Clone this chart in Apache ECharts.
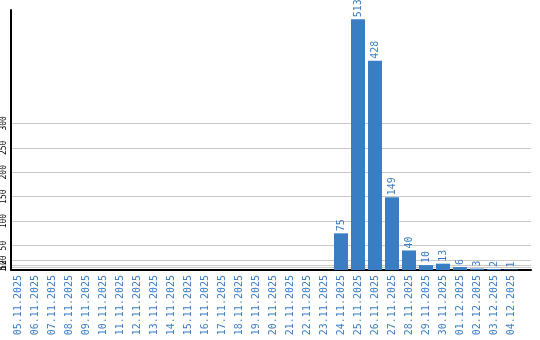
<!DOCTYPE html>
<html>
<head>
<meta charset="utf-8">
<script src="https://cdn.jsdelivr.net/npm/echarts@6/dist/echarts.min.js"></script>
<style>html,body{margin:0;padding:0;background:#fff;}#c{width:540px;height:340px;}</style>
</head>
<body>
<div id="c"></div>
<script>
const categories = ['05.11.2025','06.11.2025','07.11.2025','08.11.2025','09.11.2025','10.11.2025','11.11.2025','12.11.2025','13.11.2025','14.11.2025','15.11.2025','16.11.2025','17.11.2025','18.11.2025','19.11.2025','20.11.2025','21.11.2025','22.11.2025','23.11.2025','24.11.2025','25.11.2025','26.11.2025','27.11.2025','28.11.2025','29.11.2025','30.11.2025','01.12.2025','02.12.2025','03.12.2025','04.12.2025'];
const values = [0,0,0,0,0,0,0,0,0,0,0,0,0,0,0,0,0,0,0,75,513,428,149,40,10,13,6,3,2,1];
const yTicks = [0,1,5,10,20,50,100,150,200,250,300];
const yMax = 532;

const chart = echarts.init(document.getElementById('c'), null, {renderer:'canvas'});
const blue = '#3b7dc3';
chart.setOption({
  animation:false,
  grid:[
    {left:9.5, top:10, width:510, bottom:70},
    {left:11, top:10, right:9, bottom:70}
  ],
  xAxis:[
    {gridIndex:0, type:'category', data:categories,
     axisLine:{show:false}, axisTick:{show:false},
     axisLabel:{rotate:90, interval:0, color:blue, fontFamily:'DejaVu Sans Mono', fontSize:10, margin:5}},
    {gridIndex:1, type:'value', min:0, max:1,
     axisLine:{show:true, lineStyle:{color:'#000', width:2}},
     axisTick:{show:false}, axisLabel:{show:false}, splitLine:{show:false}}
  ],
  yAxis:[
    {gridIndex:0, type:'value', min:0, max:yMax, show:false, splitLine:{show:false}},
    {gridIndex:1, type:'value', min:0, max:yMax,
     axisLine:{show:true, lineStyle:{color:'#000', width:2}},
     axisTick:{show:false, customValues:yTicks},
     axisLabel:{customValues:yTicks, rotate:90, color:'#000', fontFamily:'DejaVu Sans Mono', fontSize:8, margin:3},
     splitLine:{show:true, lineStyle:{color:'#c8c8c8', width:1}}}
  ],
  series:[{
    type:'bar', xAxisIndex:0, yAxisIndex:0, data:values, barWidth:14,
    itemStyle:{color:blue},
    label:{show:true, position:'top', rotate:90, align:'left', verticalAlign:'middle', distance:2,
      color:blue, fontFamily:'DejaVu Sans Mono', fontSize:10,
      formatter:p=>p.value? String(p.value):''}
  }]
});
</script>
</body>
</html>
